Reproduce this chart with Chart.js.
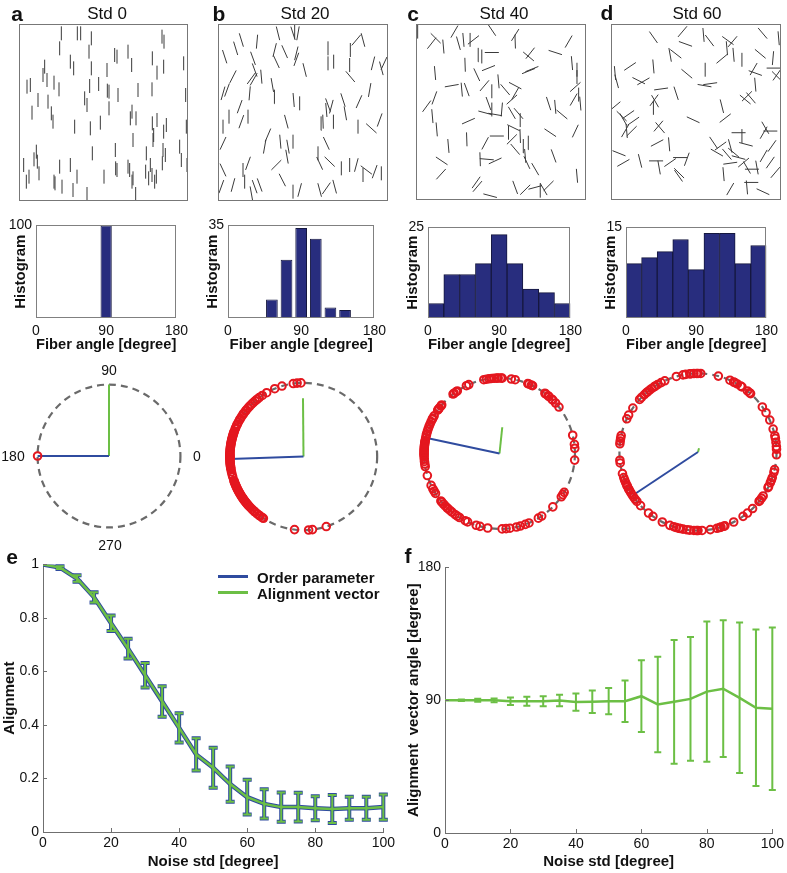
<!DOCTYPE html>
<html>
<head>
  <title>Fiber alignment vs noise</title>
  <style>
    body { margin: 0; background: #fff; font-family: "Liberation Sans", Arial, sans-serif; }
    #fig { position: relative; width: 787px; height: 873px; overflow: hidden; }
    #fig canvas { position: absolute; }
    .t { position: absolute; transform: translate(-50%, -50%); white-space: nowrap; color: #111; }
    .letter { font-weight: bold; font-size: 21px; }
    .std { font-size: 17px; }
    .deg { font-size: 14px; }
    .leg { position: absolute; font-weight: bold; font-size: 15px; white-space: nowrap; transform: translateY(-50%); color: #111; }
    .sw { position: absolute; width: 30px; height: 3px; }
  </style>
  <script src="https://cdn.jsdelivr.net/npm/chart.js"></script>
</head>
<body>
<div id="fig">
  <div class="t letter" style="left:17px;top:14px">a</div>
  <div class="t letter" style="left:219px;top:14px">b</div>
  <div class="t letter" style="left:413px;top:14px">c</div>
  <div class="t letter" style="left:607px;top:13px">d</div>
  <div class="t letter" style="left:12px;top:557px">e</div>
  <div class="t letter" style="left:408px;top:556px">f</div>
  <div class="t std" style="left:107px;top:14px">Std 0</div>
  <div class="t std" style="left:305px;top:14px">Std 20</div>
  <div class="t std" style="left:504px;top:14px">Std 40</div>
  <div class="t std" style="left:697px;top:14px">Std 60</div>
  <div class="t deg" style="left:109px;top:370px">90</div>
  <div class="t deg" style="left:197px;top:456px">0</div>
  <div class="t deg" style="left:13px;top:456px">180</div>
  <div class="t deg" style="left:110px;top:545px">270</div>
  <div class="sw" style="left:218px;top:575px;background:#2f4b9f"></div>
  <div class="leg" style="left:257px;top:577px">Order parameter</div>
  <div class="sw" style="left:218px;top:591px;background:#6cbf45"></div>
  <div class="leg" style="left:257px;top:593px">Alignment vector</div>
</div>
<script>
// ---- data ----
// fibers: [x, y, angle in degrees] in image units of each panel
const fibersA = [[185,100,90],[233,100,90],[243,100,90],[275,115,90],[180,145,90],[268,155,90],[345,165,90],[352,170,90],[385,155,90],[396,195,90],[212,185,90],[222,205,90],[135,200,90],[130,225,90],[142,240,90],[163,248,90],[178,268,90],[82,260,90],[92,255,90],[275,205,90],[270,258,90],[297,252,90],[322,210,90],[323,272,90],[328,275,90],[355,285,90],[415,270,90],[457,268,90],[458,175,90],[472,218,90],[492,200,90],[487,110,90],[493,125,90],[552,190,90],[558,285,90],[115,300,90],[97,338,90],[145,305,90],[155,340,90],[160,365,90],[225,380,90],[255,295,90],[262,315,90],[272,385,90],[302,368,90],[328,325,90],[392,355,90],[397,335,90],[409,355,90],[458,370,90],[462,405,90],[472,360,90],[492,395,90],[500,375,90],[560,380,90],[540,440,90],[545,480,90],[490,450,90],[488,490,90],[460,420,90],[440,460,90],[400,420,90],[347,450,90],[352,510,90],[278,460,90],[212,495,90],[180,500,90],[232,530,90],[110,455,90],[113,485,90],[103,478,90],[118,520,90],[72,495,90],[88,530,90],[80,545,90],[163,545,90],[166,550,90],[187,560,90],[220,570,90],[262,582,90],[313,530,90],[348,505,90],[385,500,90],[390,510,90],[397,545,90],[400,535,90],[408,582,90],[438,515,90],[447,535,90],[452,495,90],[457,525,90],[465,545,90],[470,530,90],[497,465,90],[562,495,90]];
const fibersB = [[75,170,108],[108,145,107],[125,120,107],[172,125,85],[160,175,110],[235,100,104],[280,100,108],[295,100,80],[285,95,90],[225,150,76],[255,155,114],[290,160,76],[290,178,70],[230,185,115],[315,210,104],[385,145,90],[385,190,90],[402,185,90],[452,150,90],[450,195,90],[470,120,50],[490,120,105],[520,190,76],[545,205,105],[553,190,65],[452,230,130],[100,230,63],[155,235,54],[162,238,60],[185,230,95],[165,210,110],[70,280,74],[82,270,70],[150,280,85],[218,255,100],[225,290,92],[120,320,70],[282,300,95],[300,310,90],[380,330,95],[395,320,75],[385,315,110],[430,300,108],[437,340,100],[478,305,66],[510,270,80],[88,350,90],[145,350,90],[125,365,70],[260,365,105],[365,370,92],[370,365,92],[402,365,92],[540,360,70],[515,385,138],[475,380,90],[70,380,90],[70,430,65],[205,405,67],[195,440,80],[242,425,95],[265,440,100],[280,425,90],[380,430,115],[355,460,90],[360,490,115],[390,485,136],[425,505,90],[450,495,90],[470,495,75],[500,510,143],[490,525,90],[525,515,70],[545,520,90],[230,495,45],[262,470,100],[145,490,70],[70,510,115],[65,560,70],[100,555,75],[130,510,90],[135,545,90],[165,560,110],[180,555,110],[155,580,100],[248,540,117],[280,575,90],[300,570,75],[360,570,105],[380,565,55],[405,560,105]];
const fibersC = [[68,95,90],[122,115,135],[110,130,52],[145,140,95],[178,95,60],[190,130,106],[205,120,95],[225,120,90],[235,120,38],[290,90,124],[360,105,58],[360,125,92],[250,165,92],[260,170,90],[290,158,180],[400,170,140],[405,160,52],[410,208,22],[400,214,22],[480,158,162],[520,125,60],[530,190,95],[545,210,90],[540,262,42],[545,232,90],[120,220,95],[210,195,92],[280,205,22],[245,225,115],[268,258,50],[170,258,10],[200,270,95],[215,270,110],[310,245,95],[290,275,90],[330,270,130],[360,258,152],[360,282,60],[350,300,42],[118,295,70],[95,320,54],[112,350,95],[280,312,110],[290,330,90],[270,340,165],[300,345,170],[320,330,85],[350,340,120],[370,342,130],[375,362,90],[460,312,108],[480,322,95],[500,345,140],[535,300,60],[555,312,95],[550,285,90],[220,365,24],[125,390,95],[355,385,154],[375,410,92],[385,440,92],[400,430,92],[465,400,146],[540,395,65],[305,410,180],[340,400,90],[270,432,62],[215,420,92],[160,440,95],[255,480,92],[275,480,175],[300,485,25],[350,420,45],[360,450,130],[390,470,95],[395,490,115],[140,485,146],[138,525,48],[420,510,120],[475,470,110],[545,530,95],[243,550,55],[247,562,50],[285,590,165],[360,565,110],[390,572,45],[420,565,15],[435,575,90],[445,570,120],[460,560,45]];
const fibersD = [[190,112,125],[277,95,50],[286,132,160],[340,105,95],[358,122,127],[413,122,144],[427,125,50],[410,145,95],[517,100,130],[565,115,95],[240,165,100],[257,162,142],[120,200,34],[190,200,95],[75,220,95],[80,245,105],[290,222,140],[345,210,90],[395,177,40],[430,165,95],[455,180,90],[510,162,140],[548,175,85],[490,208,60],[495,220,160],[550,205,180],[560,230,135],[560,225,55],[146,243,153],[160,245,30],[343,258,170],[360,252,8],[213,268,8],[258,281,108],[495,255,95],[470,290,45],[482,295,130],[465,300,140],[192,302,54],[195,305,120],[190,325,90],[75,320,40],[95,350,135],[115,345,35],[130,365,35],[100,360,120],[105,395,60],[110,395,95],[125,395,45],[309,361,155],[395,320,104],[405,356,38],[210,385,130],[205,380,50],[201,431,28],[237,435,95],[87,462,158],[100,491,30],[150,485,104],[198,485,180],[207,505,100],[240,490,35],[270,475,180],[290,480,70],[267,522,135],[265,530,125],[370,430,124],[391,440,36],[420,440,105],[380,460,150],[445,400,180],[455,410,90],[467,435,165],[520,400,60],[540,395,180],[525,385,120],[545,440,55],[410,465,130],[430,460,140],[445,475,165],[460,490,40],[420,492,8],[400,525,95],[470,505,120],[485,510,180],[500,505,100],[520,470,60],[540,490,55],[555,520,50],[470,565,95],[483,550,180],[518,578,155],[420,570,60]];

// histograms: bin centres (fiber angle, degrees) and counts
const binsAB = [0,18,36,54,72,90,108,126,144,162,180];
const binsCD = [10,30,50,70,90,110,130,150,170];
const histA = [0,0,0,0,0,100,0,0,0,0,0];
const histB = [0,0,0,7,22,34,30,4,3,0,0];
const histC = [4,12,12,15,23,15,8,7,4];
const histD = [9,10,11,13,8,14,14,9,12];
const histMax = [100, 35, 25, 15];

// doubled fiber angles on the unit circle (degrees)
const ringA = [180];
const ringB = [92,95,98,107,113,120,124,127,129,131,133,135,137,139,141,142,144,145,147,149,150,152,154,155,157,158,160,161,162,163,164,165,166,167,168,169,170,171,172,173,174,175,176,177,178,179,179,180,180,181,181,182,183,184,185,186,187,188,189,190,192,194,196,199,200,201,202,203,204,205,206,207,208,209,210,211,212,213,214,215,216,217,218,219,220,221,222,224,226,228,229,231,233,234,236,237,263,274,277,288];
const ringC = [4,7,14,38,42,45,46,49,50,52,53,64,65,67,68,78,81,88,89,91,92,94,96,98,100,102,114,116,124,125,127,128,140,141,143,144,145,150,152,153,155,157,159,161,163,165,166,168,170,171,172,173,174,175,176,177,178,179,180,181,182,184,186,188,190,197,205,208,210,212,219,220,222,224,226,227,229,231,234,236,238,243,245,252,255,261,272,275,278,283,286,290,293,301,304,315,325,327,329,355];
const ringD = [2,4,7,10,12,17,24,30,35,48,49,51,56,57,60,62,63,66,75,88,90,91,93,95,96,99,101,106,115,118,121,123,124,126,128,130,131,133,136,138,146,152,155,168,170,172,174,186,188,196,199,201,203,205,206,208,209,211,213,215,217,219,223,231,235,243,249,252,254,256,257,259,262,264,267,269,270,273,279,284,286,287,289,290,297,305,309,314,321,322,324,326,333,334,337,339,341,345,347,358];
const orderDir = [180, 182, 168, 213.6];   // blue vector direction (deg)
const alignDir = [90, 90.5, 84, 75];       // green vector direction (deg)
const alignLen = [1, 0.79, 0.35, 0.05];    // green vector length

// panels e and f
const noiseStd = [0,5,10,15,20,25,30,35,40,45,50,55,60,65,70,75,80,85,90,95,100];
const orderParam = [1.0,0.988,0.947,0.877,0.78,0.685,0.586,0.488,0.389,0.29,0.24,0.179,0.13,0.105,0.093,0.093,0.089,0.086,0.089,0.089,0.093];
const orderErr = [0,0.005,0.012,0.019,0.029,0.037,0.046,0.057,0.055,0.06,0.075,0.066,0.065,0.055,0.055,0.054,0.045,0.052,0.043,0.043,0.047];
const alignVec = [1.0,0.988,0.947,0.877,0.78,0.685,0.586,0.488,0.389,0.29,0.24,0.179,0.13,0.105,0.093,0.093,0.089,0.086,0.089,0.089,0.093];
const alignErr = [0,0.005,0.012,0.019,0.029,0.037,0.046,0.057,0.055,0.06,0.075,0.066,0.065,0.055,0.055,0.054,0.045,0.052,0.043,0.043,0.047];
const vecAngle = [90,90,89.9,89.9,89.3,89.3,89.3,89.8,88.7,88.9,89.3,89.3,92.7,87.1,88.9,90.9,95.8,97.8,91.6,84.9,84.2];
const vecAngleErr = [0,0.5,1,1.3,2.5,3.1,3.4,3.9,5.8,7.6,8.9,14,24.3,32.4,41.9,42,47.5,46.3,51,53,55];

// ---- styles / layout ----
const BLUE = '#2f4b9f', GREEN = '#6cbf45', RED = '#e4171f', NAVY = '#282d7e', AXIS = '#6f6f6f';
const FIBER_LEN = 42;

Chart.defaults.font.family = '"Liberation Sans", Arial, sans-serif';
Chart.defaults.font.size = 14;
Chart.defaults.color = '#111';
Chart.defaults.animation = false;
Chart.defaults.responsive = false;
Chart.defaults.plugins.legend.display = false;
Chart.defaults.plugins.tooltip.enabled = false;

const fig = document.getElementById('fig');
function mk(left, top, w, h) {
  const c = document.createElement('canvas');
  c.width = w; c.height = h;
  c.style.left = left + 'px'; c.style.top = top + 'px';
  c.style.width = w + 'px'; c.style.height = h + 'px';
  fig.insertBefore(c, fig.firstChild);
  return c;
}
const noGrid = { display: false, drawTicks: false };
const fmt = v => String(Number(v.toFixed(2)));

const framePlugin = {
  id: 'frame',
  afterDraw(chart, args, opts) {
    const a = chart.chartArea, ctx = chart.ctx;
    ctx.save();
    ctx.strokeStyle = opts.color || '#777';
    ctx.lineWidth = 1;
    ctx.strokeRect(Math.round(a.left) + 0.5, Math.round(a.top) + 0.5, Math.round(a.right - a.left) - 1, Math.round(a.bottom - a.top) - 1);
    ctx.restore();
  }
};

const ringPlugin = {
  id: 'ring',
  beforeDatasetsDraw(chart) {
    const xs = chart.scales.x, ys = chart.scales.y, ctx = chart.ctx;
    const cx = xs.getPixelForValue(0), cy = ys.getPixelForValue(0);
    const r = xs.getPixelForValue(1) - cx;
    ctx.save();
    ctx.strokeStyle = '#6a6a6a';
    ctx.lineWidth = 2.2;
    ctx.setLineDash([7, 5]);
    ctx.beginPath();
    ctx.arc(cx, cy, r, 0, Math.PI * 2);
    ctx.stroke();
    ctx.restore();
  }
};

const errorBarsPlugin = {
  id: 'errorBars',
  afterDatasetDraw(chart, args) {
    const ds = chart.data.datasets[args.index];
    if (!ds.errors) return;
    const ys = chart.scales.y, ctx = chart.ctx;
    ctx.save();
    ctx.strokeStyle = ds.borderColor;
    ctx.lineWidth = ds.errWidth;
    ctx.beginPath();
    args.meta.data.forEach((pt, i) => {
      const e = ds.errors[i];
      if (!e) return;
      const v = ds.data[i].y, x = pt.x, w = ds.cap;
      const y1 = ys.getPixelForValue(v + e), y2 = ys.getPixelForValue(v - e);
      ctx.moveTo(x, y1); ctx.lineTo(x, y2);
      ctx.moveTo(x - w, y1); ctx.lineTo(x + w, y1);
      ctx.moveTo(x - w, y2); ctx.lineTo(x + w, y2);
    });
    ctx.stroke();
    ctx.restore();
  }
};

const inTicksPlugin = {
  id: 'inTicks',
  afterDraw(chart) {
    const xs = chart.scales.x, ys = chart.scales.y, a = chart.chartArea, ctx = chart.ctx;
    ctx.save();
    ctx.strokeStyle = AXIS;
    ctx.lineWidth = 1;
    ctx.beginPath();
    xs.ticks.forEach((t, i) => {
      const px = Math.round(xs.getPixelForTick(i)) + 0.5;
      ctx.moveTo(px, a.bottom); ctx.lineTo(px, a.bottom - 4);
    });
    ys.ticks.forEach((t, i) => {
      const py = Math.round(ys.getPixelForTick(i)) + 0.5;
      ctx.moveTo(a.left, py); ctx.lineTo(a.left + 4, py);
    });
    ctx.stroke();
    ctx.restore();
  }
};

// ---- fiber images ----
function segs(list) {
  const pts = [];
  list.forEach(([x, y, a]) => {
    const dx = FIBER_LEN / 2 * Math.cos(a * Math.PI / 180);
    const dy = FIBER_LEN / 2 * Math.sin(a * Math.PI / 180);
    pts.push({x: x - dx, y: y + dy}, {x: x + dx, y: y - dy}, {x: null, y: null});
  });
  return pts;
}

function fiberChart(box, frame, list) {
  new Chart(mk(box[0], box[1], box[2] - box[0], box[3] - box[1]), {
    type: 'scatter',
    data: { datasets: [{ data: segs(list), showLine: true, spanGaps: false, borderColor: '#3a3a3a', borderWidth: 1, pointRadius: 0 }] },
    options: {
      layout: { padding: 0 },
      scales: {
        x: { display: false, min: frame[0], max: frame[1] },
        y: { display: false, min: frame[2], max: frame[3], reverse: true }
      },
      plugins: { frame: { color: '#777' } }
    },
    plugins: [framePlugin]
  });
}
fiberChart([19, 24, 188, 201], [58, 565, 72, 603], fibersA);
fiberChart([218, 24, 388, 201], [55, 565, 72, 603], fibersB);
fiberChart([416, 24, 586, 200], [63, 572, 72, 603], fibersC);
fiberChart([611, 24, 781, 200], [63, 572, 72, 603], fibersD);

// ---- histograms ----
function histChart(box, bins, counts, ymax, barPct) {
  const YW = 36, XH = 36, PT = 10, PR = 14;
  const c = mk(box[0] - YW, box[1] - PT, box[2] - box[0] + YW + PR, box[3] - box[1] + PT + XH);
  new Chart(c, {
    type: 'bar',
    data: { datasets: [{
      data: bins.map((b, i) => ({x: b, y: counts[i]})),
      backgroundColor: NAVY, borderColor: '#16183f', borderWidth: 1,
      barPercentage: barPct, categoryPercentage: 1
    }] },
    options: {
      layout: { padding: { top: PT, right: PR, left: 0, bottom: 0 } },
      scales: {
        x: {
          type: 'linear', min: 0, max: 180, offset: false,
          grid: noGrid, border: { display: false },
          ticks: { stepSize: 90, padding: 5, autoSkip: false },
          title: { display: true, text: 'Fiber angle [degree]', font: { size: 15, weight: 'bold' }, padding: { top: 0, bottom: 0 } },
          afterFit: s => { s.height = XH; }
        },
        y: {
          min: 0, max: ymax,
          grid: noGrid, border: { display: false },
          ticks: { stepSize: ymax, padding: 4, callback: v => (v === ymax ? v : '') },
          title: { display: true, text: 'Histogram', font: { size: 15, weight: 'bold' }, padding: { top: 12 } },
          afterFit: s => { s.width = YW; }
        }
      },
      plugins: { frame: { color: '#808080' } }
    },
    plugins: [framePlugin]
  });
}
histChart([36, 223, 179, 318], binsAB, histA, histMax[0], 0.8);
histChart([228, 223, 377, 318], binsAB, histB, histMax[1], 0.8);
histChart([428, 225, 573, 318], binsCD, histC, histMax[2], 1);
histChart([626, 225, 769, 318], binsCD, histD, histMax[3], 1);

// ---- rings ----
const rings = [{cx: 109, cy: 456, r: 77}, {cx: 303, cy: 456, r: 79}, {cx: 499, cy: 453, r: 81}, {cx: 698, cy: 452, r: 84}];
function ringChart(ring, angles, k) {
  const R = 1.12, s = Math.round(2 * ring.r * R);
  const rad = d => d * Math.PI / 180;
  new Chart(mk(Math.round(ring.cx - s / 2), Math.round(ring.cy - s / 2), s, s), {
    type: 'scatter',
    data: { datasets: [
      { data: angles.map(a => ({x: Math.cos(rad(a)), y: Math.sin(rad(a))})),
        pointRadius: 3.8, borderWidth: 2, borderColor: RED, backgroundColor: 'rgba(255,255,255,0)', clip: false },
      { data: [{x: 0, y: 0}, {x: Math.cos(rad(orderDir[k])), y: Math.sin(rad(orderDir[k]))}],
        showLine: true, borderColor: BLUE, borderWidth: 2, pointRadius: 0, clip: false },
      { data: [{x: 0, y: 0}, {x: alignLen[k] * Math.cos(rad(alignDir[k])), y: alignLen[k] * Math.sin(rad(alignDir[k]))}],
        showLine: true, borderColor: GREEN, borderWidth: 2, pointRadius: 0, clip: false }
    ] },
    options: {
      layout: { padding: 0 },
      scales: { x: { display: false, min: -R, max: R }, y: { display: false, min: -R, max: R } }
    },
    plugins: [ringPlugin]
  });
}
ringChart(rings[0], ringA, 0);
ringChart(rings[1], ringB, 1);
ringChart(rings[2], ringC, 2);
ringChart(rings[3], ringD, 3);

// ---- panel e ----
new Chart(mk(0, 552, 398, 320), {
  type: 'line',
  data: { datasets: [
    { label: 'Order parameter', data: noiseStd.map((x, i) => ({x, y: orderParam[i]})), errors: orderErr,
      borderColor: BLUE, borderWidth: 4.5, errWidth: 4, cap: 4.5, pointRadius: 0, order: 1 },
    { label: 'Alignment vector', data: noiseStd.map((x, i) => ({x, y: alignVec[i]})), errors: alignErr,
      borderColor: GREEN, borderWidth: 2.5, errWidth: 2, cap: 4, pointRadius: 0, order: 0 }
  ] },
  options: {
    layout: { padding: { top: 10, right: 12, left: 0, bottom: 0 } },
    scales: {
      x: {
        type: 'linear', min: 0, max: 100,
        grid: noGrid, border: { color: AXIS },
        ticks: { stepSize: 20, padding: 3, autoSkip: false },
        title: { display: true, text: 'Noise std [degree]', font: { size: 15, weight: 'bold' }, padding: { top: 0, bottom: 1 } },
        afterFit: s => { s.height = 40; }
      },
      y: {
        min: 0, max: 1,
        grid: noGrid, border: { color: AXIS },
        ticks: { stepSize: 0.2, padding: 4, callback: fmt },
        title: { display: true, text: 'Alignment', font: { size: 15, weight: 'bold' }, padding: { top: 1 } },
        afterFit: s => { s.width = 43; }
      }
    }
  },
  plugins: [errorBarsPlugin, inTicksPlugin]
});

// ---- panel f ----
new Chart(mk(405, 555, 382, 317), {
  type: 'line',
  data: { datasets: [
    { label: 'Alignment vector angle', data: noiseStd.map((x, i) => ({x, y: vecAngle[i]})), errors: vecAngleErr,
      borderColor: GREEN, borderWidth: 2.5, errWidth: 2, cap: 3.5, pointRadius: 0 }
  ] },
  options: {
    layout: { padding: { top: 10, right: 14, left: 0, bottom: 0 } },
    scales: {
      x: {
        type: 'linear', min: 0, max: 100,
        grid: noGrid, border: { color: AXIS },
        ticks: { stepSize: 20, padding: 3, autoSkip: false },
        title: { display: true, text: 'Noise std [degree]', font: { size: 15, weight: 'bold' }, padding: { top: 0, bottom: 1 } },
        afterFit: s => { s.height = 39; }
      },
      y: {
        min: 0, max: 180,
        grid: noGrid, border: { color: AXIS },
        ticks: { stepSize: 90, padding: 4 },
        title: { display: true, text: 'Alignment  vector angle [degree]', font: { size: 15, weight: 'bold' }, padding: { top: 0 } },
        afterFit: s => { s.width = 40; }
      }
    }
  },
  plugins: [errorBarsPlugin, inTicksPlugin]
});
</script>
</body>
</html>
